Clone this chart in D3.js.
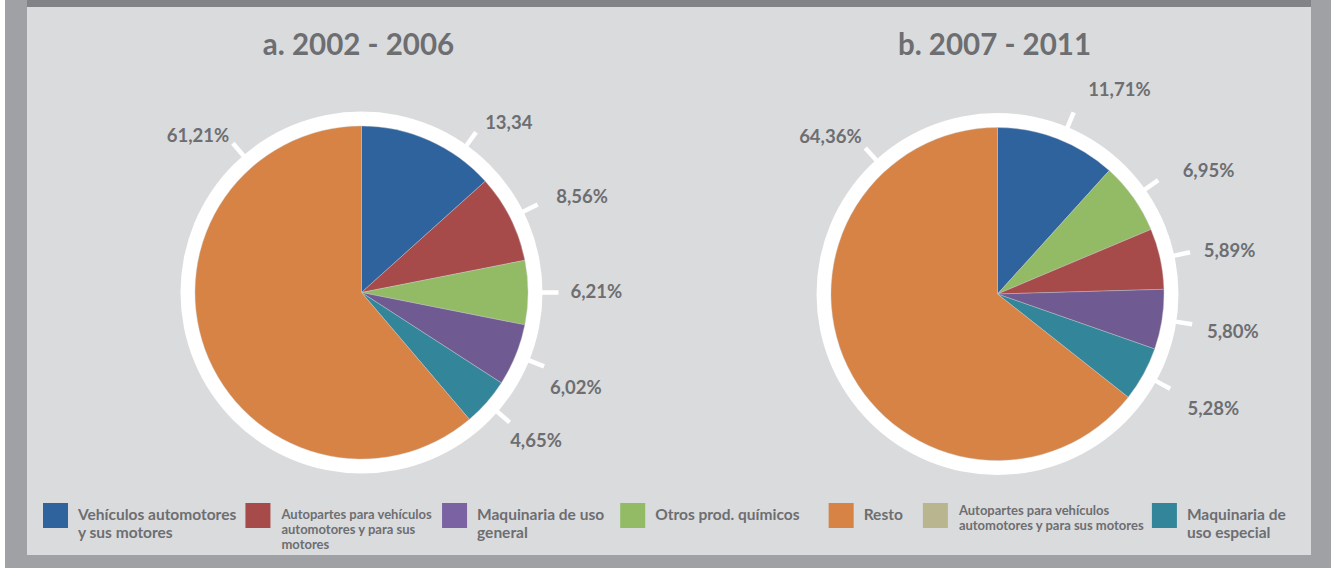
<!DOCTYPE html>
<html>
<head>
<meta charset="utf-8">
<script src="https://cdn.jsdelivr.net/npm/d3@7"></script>
<style>
  body { margin: 0; background: #ffffff; }
  svg { display: block; font-family: Lato, "Open Sans", sans-serif; }
</style>
</head>
<body>
<div id="chart"></div>
<script>
// Periods (titles of the two pies)
const periods = ["a. 2002 - 2006", "b. 2007 - 2011"];

// Slice categories in drawing order, for each period
const slicesA = ["Vehículos", "Autopartes", "Químicos", "MaqGeneral", "MaqEspecial", "Resto"];
const valuesA = [13.34, 8.56, 6.21, 6.02, 4.65, 61.21];
const labelsA = ["13,34", "8,56%", "6,21%", "6,02%", "4,65%", "61,21%"];

const slicesB = ["Vehículos", "Químicos", "Autopartes", "MaqGeneral", "MaqEspecial", "Resto"];
const valuesB = [11.71, 6.95, 5.89, 5.80, 5.28, 64.36];
const labelsB = ["11,71%", "6,95%", "5,89%", "5,80%", "5,28%", "64,36%"];

// Legend entries
const legendKeys = ["Vehículos", "Autopartes", "MaqGeneral", "Químicos", "Resto", "Autopartes2", "MaqEspecial"];
const legendLabels = [
    ["Vehículos automotores", "y sus motores"],
    ["Autopartes para vehículos", "automotores y para sus", "motores"],
    ["Maquinaria de uso", "general"],
    ["Otros prod. químicos"],
    ["Resto"],
    ["Autopartes para vehículos", "automotores y para sus motores"],
    ["Maquinaria de", "uso especial"]
];

const width = 1331;
const height = 568;
const textColor = "#6d6e71";

const color = d3.scaleOrdinal()
    .domain(["Vehículos", "Autopartes", "Químicos", "MaqGeneral", "MaqEspecial", "Resto", "Autopartes2"])
    .range(["#2e639e", "#a64a4a", "#93bb65", "#6f5a91", "#338599", "#d78345", "#b9b58f"]);
const legendColor = d3.scaleOrdinal()
    .domain(color.domain())
    .range(["#2e639e", "#a64a4a", "#93bb65", "#7a62a3", "#338599", "#d78345", "#b9b58f"]);

// layout tweaks: where along each slice the tick sits (0.5 = middle) and label nudges
const tickFracA = [0.74, 0.5, 0.5, 0.5, 0.5, 0.815];
const tickFracB = [0.54, 0.5, 0.5, 0.5, 0.5, 0.818];
const nudgeA = [[1, 3], [6, -1], [-2, -1], [-7, 15], [-10, 8], [-1, 4]];
const nudgeB = [[9, -9], [13, -1], [0, 1], [1, 5], [5, 12], [-1, 0]];

const svg = d3.select("#chart")
    .append("svg")
    .attr("width", width)
    .attr("height", height);

// frame
svg.append("rect").attr("x", 5).attr("y", 0).attr("width", width - 5).attr("height", height).attr("fill", "#a0a1a4");
svg.append("rect").attr("x", 27).attr("y", 0).attr("width", 1311 - 27).attr("height", 7).attr("fill", "#828388");
svg.append("rect").attr("x", 27).attr("y", 7).attr("width", 1311 - 27).attr("height", 555 - 7).attr("fill", "#dadbdd");

const pieR = 166.5;
const ringR = 181;
const tickR = 197;

const pie = d3.pie().sort(null).value(d => d.value);
const arc = d3.arc().innerRadius(0).outerRadius(pieR);

function drawPie(cx, cy, title, names, values, labels, fracs, nudges) {
    const g = svg.append("g").attr("transform", `translate(${cx},${cy})`);
    const data = names.map((n, i) => ({ name: n, value: values[i], label: labels[i], frac: fracs[i], nudge: nudges[i] }));
    const arcs = pie(data);

    svg.append("text")
        .attr("x", cx - 3)
        .attr("y", 55)
        .attr("text-anchor", "middle")
        .attr("font-size", "29.5px")
        .attr("font-weight", "bold")
        .attr("fill", textColor)
        .text(title);

    g.append("circle").attr("r", ringR).attr("fill", "#ffffff");

    g.selectAll("path.slice")
        .data(arcs)
        .join("path")
        .attr("class", "slice")
        .attr("d", arc)
        .attr("fill", d => color(d.data.name))
        .attr("stroke", "#c8c9cc")
        .attr("stroke-width", 0.4);

    arcs.forEach(d => {
        const a = d.startAngle + (d.endAngle - d.startAngle) * d.data.frac;
        const s = Math.sin(a), c = -Math.cos(a);
        const x1 = s * (ringR - 1), y1 = c * (ringR - 1);
        const x2 = s * tickR, y2 = c * tickR;
        g.append("line")
            .attr("x1", x1).attr("y1", y1)
            .attr("x2", x2).attr("y2", y2)
            .attr("stroke", "#ffffff")
            .attr("stroke-width", 4.5);

        const dx = (s > 0 ? 14 * s : 4 * s) + d.data.nudge[0];
        const dy = c * 15 + d.data.nudge[1];
        g.append("text")
            .attr("x", x2 + dx)
            .attr("y", y2 + dy)
            .attr("dy", "0.35em")
            .attr("text-anchor", s > 0 ? "start" : "end")
            .attr("font-size", "18.5px")
            .attr("font-weight", "bold")
            .attr("fill", textColor)
            .text(d.data.label);
    });
}

drawPie(361.5, 292.5, periods[0], slicesA, valuesA, labelsA, tickFracA, nudgeA);
drawPie(997.5, 294, periods[1], slicesB, valuesB, labelsB, tickFracB, nudgeB);

// Legend: flowed left to right from text widths
const legendSmall = [false, true, false, false, false, true, false];
const legendGaps = [8, 10, 16, 29, 20, 8];
const legend = svg.append("g");
const items = legendKeys.map((k, i) => {
    const g = legend.append("g");
    g.append("rect")
        .attr("width", 25).attr("height", 25)
        .attr("y", 503)
        .attr("fill", legendColor(k));
    const small = legendSmall[i];
    const lines = legendLabels[i];
    const lh = small ? 15 : 18;
    const base = small ? (lines.length > 2 ? 519 : 515) : 520;
    const t = g.append("text")
        .attr("font-size", small ? "13px" : "15.5px")
        .attr("font-weight", "bold")
        .attr("fill", textColor);
    lines.forEach((ln, j) => {
        t.append("tspan").attr("x", small ? 36 : 35).attr("y", base + j * lh).text(ln);
    });
    return { g, w: 35 + t.node().getBBox().width };
});

let x = 43;
items.forEach((it, i) => {
    it.g.attr("transform", `translate(${x},0)`);
    x += it.w + (legendGaps[i] || 0);
});
</script>
</body>
</html>
